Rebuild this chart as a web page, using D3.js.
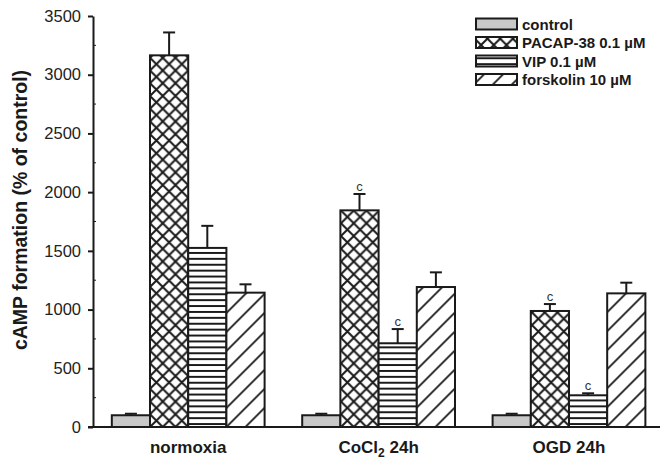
<!DOCTYPE html>
<html>
<head>
<meta charset="utf-8">
<script src="https://cdn.jsdelivr.net/npm/d3@7"></script>
<style>
  html, body { margin: 0; padding: 0; background: #fff; }
  svg { display: block; }
  text { font-family: "Liberation Sans", Arial, sans-serif; fill: #1a1a1a; }
</style>
</head>
<body>
<svg id="chart" width="662" height="462"></svg>
<script>
// Conditions on the x axis
const groups = ["normoxia", "CoCl2 24h", "OGD 24h"];
// Treatments (one bar per condition)
const seriesNames = ["control", "PACAP-38 0.1 \u00b5M", "VIP 0.1 \u00b5M", "forskolin 10 \u00b5M"];
// Mean cAMP formation (% of control) and upper error (SEM)
const controlVals = [100, 100, 100];
const controlErr  = [13, 13, 13];
const pacapVals   = [3165, 1845, 988];
const pacapErr    = [195, 139, 59];
const vipVals     = [1525, 713, 270];
const vipErr      = [188, 121, 17];
const forskVals   = [1144, 1192, 1138];
const forskErr    = [71, 125, 91];
// Significance markers drawn above the error bars
const controlSig = ["", "", ""];
const pacapSig   = ["", "c", "c"];
const vipSig     = ["", "c", "c"];
const forskSig   = ["", "", ""];
// Axis ticks
const yTicks = [0, 500, 1000, 1500, 2000, 2500, 3000, 3500];

const seriesData = [
  { name: seriesNames[0], vals: controlVals, err: controlErr, sig: controlSig, fill: "#c8c8c8" },
  { name: seriesNames[1], vals: pacapVals,   err: pacapErr,   sig: pacapSig,   fill: "url(#pat-cross)" },
  { name: seriesNames[2], vals: vipVals,     err: vipErr,     sig: vipSig,     fill: "url(#pat-horiz)" },
  { name: seriesNames[3], vals: forskVals,   err: forskErr,   sig: forskSig,   fill: "url(#pat-diag)" }
];

const svg = d3.select("#chart");
const ink = "#1a1a1a";

const y = d3.scaleLinear().domain([0, 3500]).range([427, 16]);
const x0 = d3.scaleBand().domain(groups).range([93, 664.2])
  .paddingInner(0.1975).paddingOuter(0.0988);
const x1 = d3.scaleBand().domain(d3.range(seriesData.length)).range([0, x0.bandwidth()]);

// ---- fill patterns ----
const defs = svg.append("defs");
const bw = x1.bandwidth();
const cw = bw / 3;
const pc = defs.append("pattern").attr("id", "pat-cross")
  .attr("patternUnits", "userSpaceOnUse").attr("width", cw).attr("height", cw)
  .attr("x", x0(groups[0]) + x1(1)).attr("y", 427);
pc.append("rect").attr("width", cw).attr("height", cw).attr("fill", "#fff");
pc.append("path").attr("d", `M0,0L${cw},${cw}M${cw},0L0,${cw}M-1,-1L1,1M${cw-1},${cw+1}L${cw+1},${cw-1}`)
  .attr("stroke", ink).attr("stroke-width", 2).attr("fill", "none");

const hs = 5.9;
const ph = defs.append("pattern").attr("id", "pat-horiz")
  .attr("patternUnits", "userSpaceOnUse").attr("width", 10).attr("height", hs)
  .attr("y", 427);
ph.append("rect").attr("width", 10).attr("height", hs).attr("fill", "#fff");
ph.append("line").attr("x1", 0).attr("x2", 10).attr("y1", hs / 2).attr("y2", hs / 2)
  .attr("stroke", ink).attr("stroke-width", 2);

const ds = 19;
const pd = defs.append("pattern").attr("id", "pat-diag")
  .attr("patternUnits", "userSpaceOnUse").attr("width", ds).attr("height", ds)
  .attr("x", x0(groups[0]) + x1(3)).attr("y", 427);
pd.append("rect").attr("width", ds).attr("height", ds).attr("fill", "#fff");
pd.append("path").attr("d", `M0,${ds}L${ds},0M${-ds/2},${ds/2}L${ds/2},${-ds/2}M${ds/2},${ds*1.5}L${ds*1.5},${ds/2}`)
  .attr("stroke", ink).attr("stroke-width", 1.8).attr("fill", "none");

// ---- bars ----
const barRows = [];
seriesData.forEach((s, si) => {
  groups.forEach((g, gi) => {
    barRows.push({ g, si, v: s.vals[gi], e: s.err[gi], sig: s.sig[gi], fill: s.fill });
  });
});

const bars = svg.append("g");
bars.selectAll("rect").data(barRows).join("rect")
  .attr("x", d => x0(d.g) + x1(d.si))
  .attr("y", d => y(d.v))
  .attr("width", bw)
  .attr("height", d => y(0) - y(d.v))
  .attr("fill", d => d.fill)
  .attr("stroke", ink).attr("stroke-width", 2);

// ---- error bars (upper only) ----
const errG = svg.append("g").attr("stroke", ink).attr("stroke-width", 2);
barRows.forEach(d => {
  const cx = x0(d.g) + x1(d.si) + bw / 2;
  errG.append("line").attr("x1", cx).attr("x2", cx).attr("y1", y(d.v)).attr("y2", y(d.v + d.e));
  errG.append("line").attr("x1", cx - 6).attr("x2", cx + 6).attr("y1", y(d.v + d.e)).attr("y2", y(d.v + d.e));
  if (d.sig) {
    svg.append("text").attr("x", cx).attr("y", y(d.v + d.e) - 3.5)
      .attr("text-anchor", "middle").attr("font-size", 13).style("fill", "#333")
      .text(d.sig);
  }
});

// ---- y axis ----
const yAxis = d3.axisLeft(y).tickValues(yTicks).tickFormat(d3.format("d"))
  .tickSize(5).tickPadding(7).tickSizeOuter(0);
const yg = svg.append("g").attr("transform", "translate(93,0)").call(yAxis);
yg.select(".domain").attr("stroke", ink).attr("stroke-width", 2);
yg.selectAll(".tick line").attr("stroke", ink).attr("stroke-width", 2);
yg.selectAll(".tick text").attr("font-size", 16.5).style("fill", "#222")
  .attr("font-family", "Liberation Sans, Arial, sans-serif");
// minor ticks
const minor = d3.range(250, 3500, 500);
svg.append("g").selectAll("line").data(minor).join("line")
  .attr("x1", 93).attr("x2", 96).attr("y1", d => y(d)).attr("y2", d => y(d))
  .attr("stroke", ink).attr("stroke-width", 1);

// ---- x axis line ----
svg.append("line").attr("x1", 88).attr("x2", 660).attr("y1", y(0)).attr("y2", y(0))
  .attr("stroke", ink).attr("stroke-width", 2);

// ---- x labels ----
const xl = svg.append("g");
groups.forEach(g => {
  const t = xl.append("text").attr("x", x0(g) + x0.bandwidth() / 2).attr("y", 453)
    .attr("text-anchor", "middle").attr("font-size", 17).attr("font-weight", "bold");
  const m = g.match(/^(CoCl)2(.*)$/);
  if (m) {
    t.append("tspan").text(m[1]);
    t.append("tspan").attr("font-size", 12).attr("dy", 4).text("2");
    t.append("tspan").attr("dy", -4).text(m[2]);
  } else {
    t.text(g);
  }
});

// ---- y title ----
svg.append("text").attr("transform", "translate(27,210) rotate(-90)")
  .attr("text-anchor", "middle").attr("font-size", 19.5).attr("font-weight", "bold")
  .text("cAMP formation (% of control)");

// ---- legend ----
const legY = [24, 42.5, 61, 79.5];
const lg = svg.append("g");
seriesData.forEach((s, i) => {
  lg.append("rect").attr("x", 476).attr("y", legY[i] - 5.5).attr("width", 41).attr("height", 11)
    .attr("fill", s.fill).attr("stroke", ink).attr("stroke-width", 2);
  lg.append("text").attr("x", 522).attr("y", legY[i] + 5.5).attr("font-size", 15).attr("font-weight", "bold")
    .text(s.name);
});
</script>
</body>
</html>
